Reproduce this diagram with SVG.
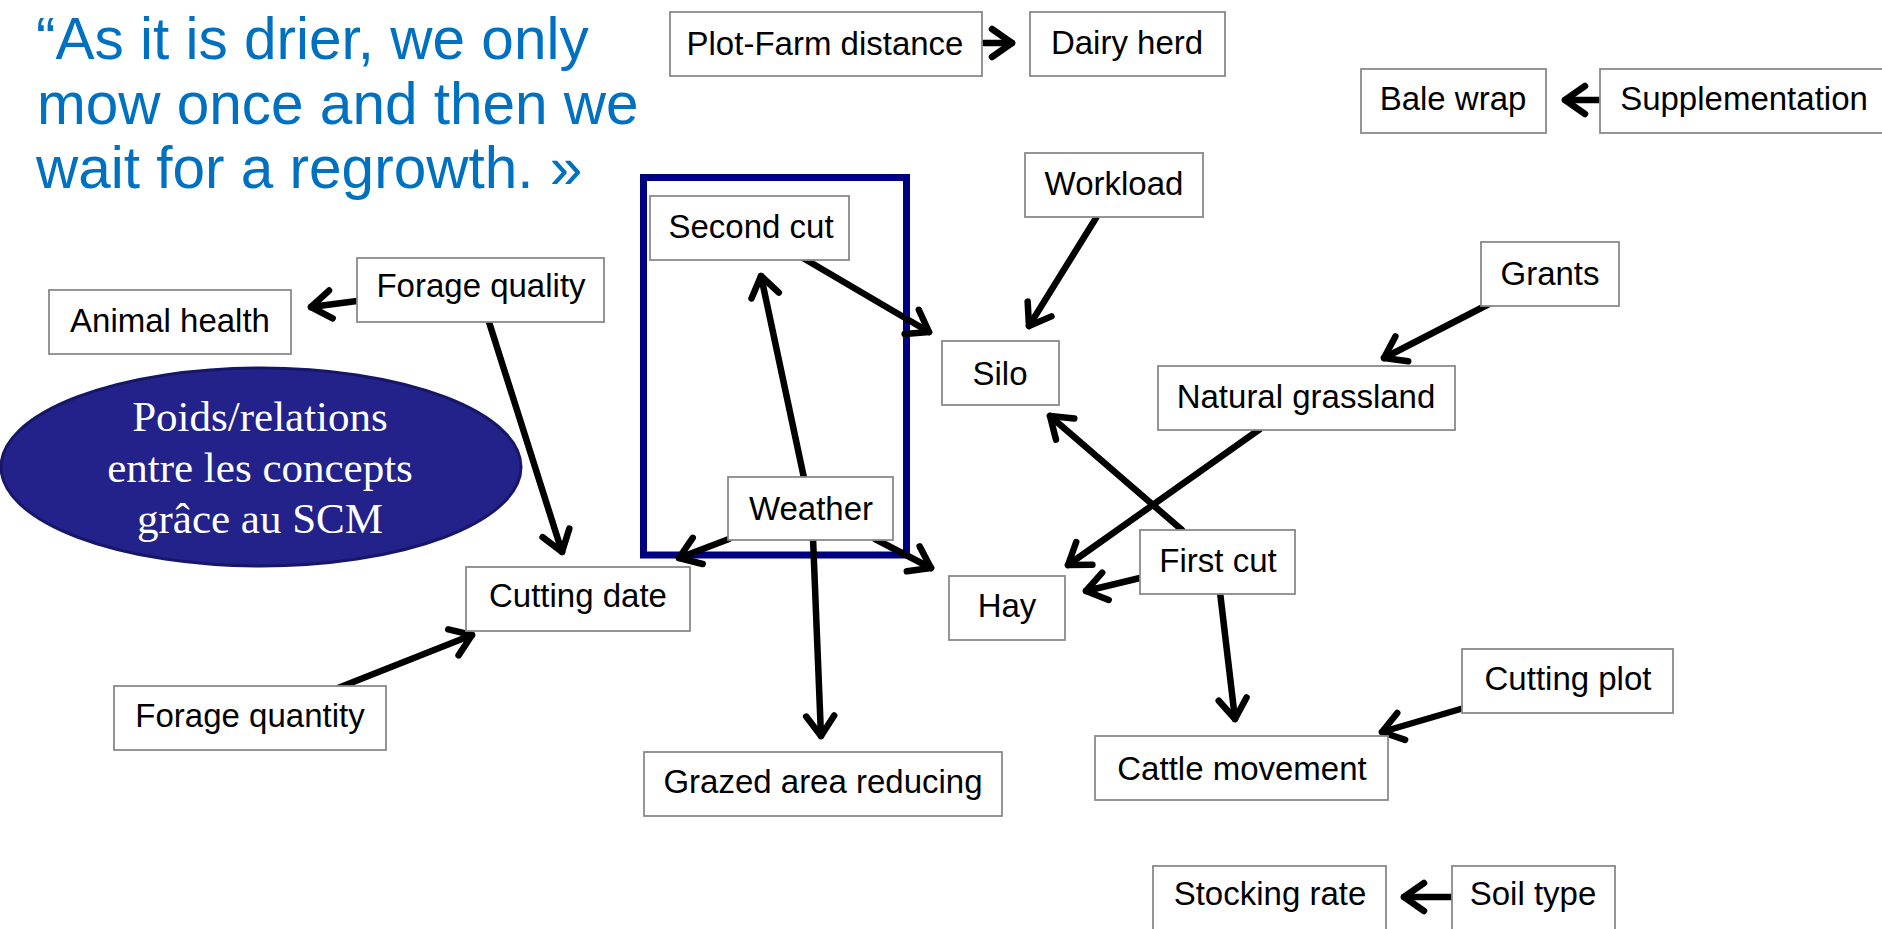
<svg xmlns="http://www.w3.org/2000/svg" width="1882" height="929" viewBox="0 0 1882 929">
<defs>
<style>
.box{fill:#fff;stroke:#8a8a8a;stroke-width:1.8}
.lbl{font-family:"Liberation Sans",Arial,sans-serif;font-size:33px;fill:#000;text-anchor:middle}
.quote{font-family:"Liberation Sans",Arial,sans-serif;font-size:58.5px;fill:#0070C0}
.ell{font-family:"Liberation Serif","Times New Roman",serif;font-size:43px;fill:#fff;text-anchor:middle}
.con{stroke:#000;stroke-width:6.5;stroke-linecap:round;fill:none;marker-end:url(#ah)}
</style>
<marker id="ah" viewBox="-4 -4 32 40" refX="22" refY="16" markerWidth="32" markerHeight="40" markerUnits="userSpaceOnUse" orient="auto">
<path d="M2,2 L22,16 L2,30" fill="none" stroke="#000" stroke-width="6.5" stroke-linecap="round" stroke-linejoin="round"/>
</marker>
</defs>
<rect width="1882" height="929" fill="#fff"/>

<g id="quote">
<text class="quote" x="36" y="59">“As it is drier, we only</text>
<text class="quote" x="37" y="123.5">mow once and then we</text>
<text class="quote" x="36" y="188">wait for a regrowth. »</text>
</g>

<g id="highlight">
<rect x="643.5" y="177.5" width="263" height="377.5" fill="none" stroke="#000080" stroke-width="7"/>
</g>

<g id="ellipse-note">
<ellipse cx="261" cy="467" rx="260" ry="99" fill="#22228A" stroke="#17176A" stroke-width="3"/>
<text class="ell" x="260" y="431">Poids/relations</text>
<text class="ell" x="260" y="482">entre les concepts</text>
<text class="ell" x="260" y="533">grâce au SCM</text>
</g>

<g id="connectors">
<line class="con" x1="984" y1="43" x2="1012" y2="43"/>
<line class="con" x1="1601" y1="100" x2="1565" y2="100"/>
<line class="con" x1="1096" y1="218" x2="1029" y2="326"/>
<line class="con" x1="1489" y1="304" x2="1384" y2="358"/>
<line class="con" x1="357" y1="301" x2="311" y2="307"/>
<line class="con" x1="489" y1="322" x2="562" y2="552"/>
<line class="con" x1="803" y1="258" x2="929" y2="332"/>
<line class="con" x1="804" y1="478" x2="761" y2="276"/>
<line class="con" x1="729" y1="539" x2="679" y2="558"/>
<line class="con" x1="875" y1="539" x2="931" y2="568"/>
<line class="con" x1="813" y1="538" x2="821" y2="736"/>
<line class="con" x1="1260" y1="429" x2="1068" y2="565"/>
<line class="con" x1="1182" y1="530" x2="1050" y2="416"/>
<line class="con" x1="1140" y1="578" x2="1086" y2="591"/>
<line class="con" x1="1220" y1="592" x2="1235" y2="719"/>
<line class="con" x1="1464" y1="708" x2="1382" y2="732"/>
<line class="con" x1="1452" y1="897" x2="1404" y2="897"/>
<line class="con" x1="338" y1="688" x2="472" y2="635"/>
</g>

<g id="plot-farm-distance"><rect class="box" x="670" y="12" width="312" height="64"/><text class="lbl" x="825" y="55">Plot-Farm distance</text></g>
<g id="dairy-herd"><rect class="box" x="1030" y="12" width="195" height="64"/><text class="lbl" x="1127" y="54">Dairy herd</text></g>
<g id="bale-wrap"><rect class="box" x="1361" y="69" width="185" height="64"/><text class="lbl" x="1453" y="110">Bale wrap</text></g>
<g id="supplementation"><rect class="box" x="1600" y="69" width="290" height="64"/><text class="lbl" x="1744" y="110">Supplementation</text></g>
<g id="workload"><rect class="box" x="1025" y="153" width="178" height="64"/><text class="lbl" x="1114" y="195">Workload</text></g>
<g id="second-cut"><rect class="box" x="650" y="196" width="199" height="64"/><text class="lbl" x="751" y="238">Second cut</text></g>
<g id="silo"><rect class="box" x="942" y="341" width="117" height="64"/><text class="lbl" x="1000" y="385">Silo</text></g>
<g id="grants"><rect class="box" x="1481" y="242" width="138" height="64"/><text class="lbl" x="1550" y="285">Grants</text></g>
<g id="natural-grassland"><rect class="box" x="1158" y="366" width="297" height="64"/><text class="lbl" x="1306" y="408">Natural grassland</text></g>
<g id="forage-quality"><rect class="box" x="357" y="258" width="247" height="64"/><text class="lbl" x="481" y="297">Forage quality</text></g>
<g id="animal-health"><rect class="box" x="49" y="290" width="242" height="64"/><text class="lbl" x="170" y="332">Animal health</text></g>
<g id="weather"><rect class="box" x="728" y="477" width="165" height="63"/><text class="lbl" x="811" y="520">Weather</text></g>
<g id="first-cut"><rect class="box" x="1140" y="530" width="155" height="64"/><text class="lbl" x="1218" y="572">First cut</text></g>
<g id="hay"><rect class="box" x="949" y="576" width="116" height="64"/><text class="lbl" x="1007" y="617">Hay</text></g>
<g id="cutting-date"><rect class="box" x="466" y="567" width="224" height="64"/><text class="lbl" x="578" y="607">Cutting date</text></g>
<g id="forage-quantity"><rect class="box" x="114" y="686" width="272" height="64"/><text class="lbl" x="250" y="727">Forage quantity</text></g>
<g id="cutting-plot"><rect class="box" x="1462" y="649" width="211" height="64"/><text class="lbl" x="1568" y="690">Cutting plot</text></g>
<g id="grazed-area-reducing"><rect class="box" x="644" y="752" width="358" height="64"/><text class="lbl" x="823" y="793">Grazed area reducing</text></g>
<g id="cattle-movement"><rect class="box" x="1095" y="736" width="293" height="64"/><text class="lbl" x="1242" y="780">Cattle movement</text></g>
<g id="stocking-rate"><rect class="box" x="1153" y="866" width="233" height="70"/><text class="lbl" x="1270" y="905">Stocking rate</text></g>
<g id="soil-type"><rect class="box" x="1452" y="866" width="163" height="70"/><text class="lbl" x="1533" y="905">Soil type</text></g>
</svg>
